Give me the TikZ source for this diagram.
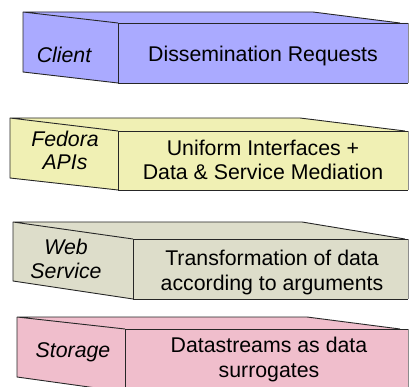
\documentclass[tikz,border=0pt]{standalone}
\usepackage{fontspec}
\setmainfont{Liberation Sans}
\definecolor{clientc}{RGB}{170,170,255}
\definecolor{fedorac}{RGB}{240,240,180}
\definecolor{webc}{RGB}{221,221,202}
\definecolor{storc}{RGB}{240,190,204}
\tikzset{
  edge/.style={draw=black!85, line width=0.9pt, line join=miter},
  rimedge/.style={draw=black!45, line width=0.9pt},
  lbl/.style={font=\fontsize{21.3}{23.5}\selectfont\itshape, align=center, inner sep=0pt, anchor=base},
  body/.style={font=\fontsize{21.3}{24.5}\selectfont, align=center, inner sep=0pt, anchor=base},
}
% #1 colour, #2 xl, #3 yt, #4 xf, #5 yf, #6 yb, #7 yfb, #8 xs, #9 xe
\newcommand{\drawslab}[9]{%
  \fill[#1] (#2,#3) -- (#8,#3) -- (#9,#5) -- (408,#5) -- (408,#7) -- (#4,#7) -- (#2,#6) -- cycle;
  \draw[edge] (#4,#5) -- (#2,#3) -- (#8,#3) -- (#9,#5);
  \draw[edge] (408,#5) -- (#4,#5) -- (#4,#7) -- (408,#7);
  \draw[edge] (#2,#3) -- (#2,#6) -- (#4,#7);
  \draw[rimedge] (408,#5) -- (408,#7);
}
\begin{document}
\begin{tikzpicture}[x=1pt,y=-1pt]
\useasboundingbox (0,0) rectangle (409,387);
\begin{scope}
\clip (0,0) rectangle (409,387);
\drawslab{clientc}{23}{12}{118}{23}{72}{83}{313}{400}
\drawslab{fedorac}{10}{118}{118}{131}{178}{190}{300}{405}
\drawslab{webc}{13}{222}{133}{239}{281}{299}{302}{405}
\drawslab{storc}{17}{317}{125}{329}{377}{392}{307}{400}
\end{scope}
\node[lbl] (client) at (64,63) {Client};
\node[body] (diss) at (263,62) {Dissemination Requests};
\node[lbl] (fedora) at (65,170) {Fedora\\APIs};
\node[body] (uniform) at (263,180) {Uniform Interfaces +\\Data \& Service Mediation};
\node[lbl] (web) at (66,278) {Web\\Service};
\node[body] (trans) at (272,290) {Transformation of data\\according to arguments};
\node[lbl] (storage) at (73,357) {Storage};
\node[body] (ds) at (269,377) {Datastreams as data\\surrogates};
\end{tikzpicture}
\end{document}
